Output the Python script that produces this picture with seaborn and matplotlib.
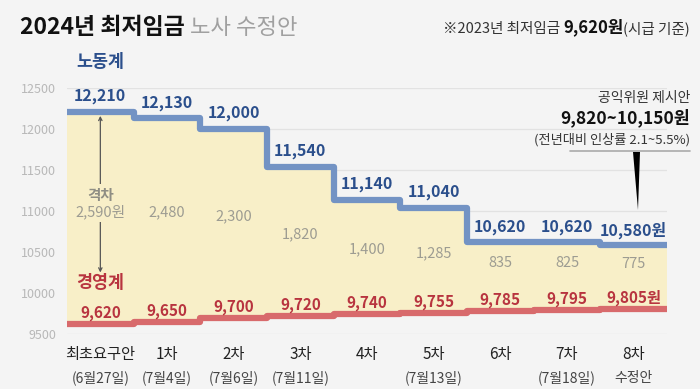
import numpy as np
import pandas as pd
import seaborn as sns
import matplotlib.pyplot as plt
from matplotlib.patches import Polygon
from matplotlib.transforms import blended_transform_factory

# data
rounds = ['최초요구안', '1차', '2차', '3차', '4차', '5차', '6차', '7차', '8차']
dates = ['(6월27일)', '(7월4일)', '(7월6일)', '(7월11일)', '', '(7월13일)', '', '(7월18일)', '수정안']
labor = [12210, 12130, 12000, 11540, 11140, 11040, 10620, 10620, 10580]
mgmt = [9620, 9650, 9700, 9720, 9740, 9755, 9785, 9795, 9805]
yticks = [9500, 10000, 10500, 11000, 11500, 12000, 12500]

BG = '#f4f4f4'
BLUE = '#7393c4'
BLUE_TXT = '#2b4f8c'
RED = '#d86a6c'
RED_TXT = '#b8343f'
FILL = '#f8efc8'
GAP_TXT = '#9d9c92'

sns.set_theme(style='white')
plt.rcParams['font.family'] = ['Noto Sans CJK KR', 'DejaVu Sans']

fig = plt.figure(figsize=(7, 3.89), dpi=100, facecolor=BG)
ax = fig.add_axes([67 / 700, 55 / 389, 600 / 700, 246 / 389])
ax.set_facecolor(BG)

# step edges: each round occupies [i-0.5, i+0.5]
n = len(rounds)
edges = np.arange(n + 1) - 0.5
df = pd.DataFrame({'x': edges,
                   'labor': labor + [labor[-1]],
                   'mgmt': mgmt + [mgmt[-1]]})

ax.fill_between(df['x'], df['mgmt'], df['labor'], step='post', color=FILL, lw=0, zorder=1)
sns.lineplot(data=df, x='x', y='labor', drawstyle='steps-post', color=BLUE, lw=4.5, ax=ax, zorder=3)
sns.lineplot(data=df, x='x', y='mgmt', drawstyle='steps-post', color=RED, lw=4.5, ax=ax, zorder=3)

ax.set_xlim(-0.5, n - 0.5)
ax.set_ylim(9500, 12500)
ax.set_yticks(yticks)
ax.set_yticklabels([str(v) for v in yticks], color='#b8b8b8', fontsize=9)
ax.yaxis.grid(True, color='#e2e2e2', lw=0.9)
ax.set_axisbelow(True)
ax.set_xticks([])
ax.set_xlabel('')
ax.set_ylabel('')
ax.tick_params(axis='y', length=0, pad=8)
for s in ax.spines.values():
    s.set_visible(False)

# value labels
for i in range(n):
    suffix = '원' if i == n - 1 else ''
    ax.text(i, labor[i] + 190, f'{labor[i]:,}{suffix}', ha='center', va='center',
            color=BLUE_TXT, fontsize=11.5, fontweight='bold', zorder=4)
    ax.text(i, mgmt[i] + 135, f'{mgmt[i]:,}{suffix}', ha='center', va='center',
            color=RED_TXT, fontsize=11, fontweight='bold', zorder=4)
    if i > 0:
        gap = labor[i] - mgmt[i]
        mid = (labor[i] + mgmt[i]) / 2
        off = 90 if gap > 1000 else 160
        ax.text(i, mid + off, f'{gap:,}', ha='center', va='center',
                color=GAP_TXT, fontsize=10.5, zorder=4)

# first-round gap arrow
ax.annotate('', xy=(0, labor[0] - 50), xytext=(0, 10250),
            arrowprops=dict(arrowstyle='<->', color='#555555', lw=0.9,
                            mutation_scale=6, shrinkA=0, shrinkB=0),
            zorder=2)
ax.text(0, 11100, '격차', ha='center', va='bottom', color='#8f8e84',
        fontsize=10.5, fontweight='bold', zorder=4,
        bbox=dict(facecolor=FILL, edgecolor='none', pad=2))
ax.text(0, 11080, '2,590원', ha='center', va='top', color=GAP_TXT,
        fontsize=10.5, zorder=4,
        bbox=dict(facecolor=FILL, edgecolor='none', pad=2))
ax.text(0, 12820, '노동계', ha='center', va='center', color=BLUE_TXT,
        fontsize=12.5, fontweight='bold')
ax.text(0, 10120, '경영계', ha='center', va='center', color=RED_TXT,
        fontsize=12.5, fontweight='bold', zorder=4)

# x labels, two lines
tr = blended_transform_factory(ax.transData, ax.transAxes)
for i in range(n):
    ax.text(i, -0.085, rounds[i], transform=tr, ha='center', va='center',
            color='#222222', fontsize=11)
    if dates[i]:
        ax.text(i, -0.18, dates[i], transform=tr, ha='center', va='center',
                color='#444444', fontsize=10)

# title
t1 = fig.text(20 / 700, 1 - 34 / 389, '2024년 최저임금', ha='left', va='baseline',
              fontsize=16.5, fontweight='bold', color='#111111')
ax.annotate(' 노사 수정안', xy=(1, 0), xycoords=t1, ha='left', va='bottom',
            fontsize=16, color='#a0a0a0', fontweight='light', annotation_clip=False)

# top-right note
n3 = fig.text(690 / 700, 1 - 33 / 389, '(시급 기준)', ha='right', va='baseline',
              fontsize=10.5, color='#333333')
n2 = ax.annotate('9,620원', xy=(0, 0), xycoords=n3, ha='right', va='bottom',
                 fontsize=12, fontweight='bold', color='#111111', annotation_clip=False)
ax.annotate('※2023년 최저임금 ', xy=(0, 0), xycoords=n2, ha='right', va='bottom',
            fontsize=10.5, color='#333333', annotation_clip=False)

# public interest proposal
fig.text(690 / 700, 1 - 98 / 389, '공익위원 제시안', ha='right', va='center',
         fontsize=10, color='#333333')
fig.text(690 / 700, 1 - 118 / 389, '9,820~10,150원', ha='right', va='center',
         fontsize=12.5, fontweight='bold', color='#111111')
fig.text(690 / 700, 1 - 140 / 389, '(전년대비 인상률 2.1~5.5%)', ha='right', va='center',
         fontsize=9.5, color='#333333')
fig.add_artist(plt.Line2D([570 / 700, 690 / 700], [1 - 151 / 389, 1 - 151 / 389],
                          color='#aaaaaa', lw=1.2))
fig.add_artist(Polygon([[633 / 700, 1 - 152 / 389], [640 / 700, 1 - 152 / 389],
                        [638 / 700, 1 - 210 / 389]], closed=True,
                       facecolor='black', edgecolor='none', transform=fig.transFigure))

fig.savefig('out.png', dpi=100, facecolor=BG)
